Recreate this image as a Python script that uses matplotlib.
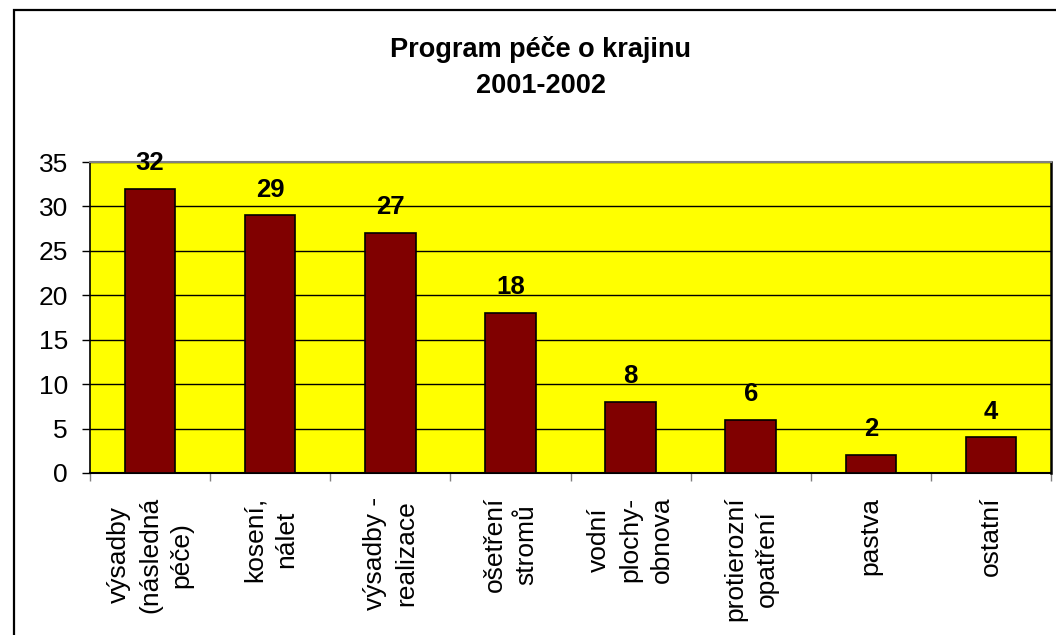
import numpy as np
import matplotlib.pyplot as plt
from matplotlib.patches import Rectangle

plt.rcParams['font.family'] = ['Liberation Sans', 'DejaVu Sans']

# programme categories and counts
categories = ['výsadby\n(následná\npéče)', 'kosení,\nnálet', 'výsadby -\nrealizace',
              'ošetření\nstromů', 'vodní\nplochy-\nobnova', 'protierozní\nopatření',
              'pastva', 'ostatní']
counts = [32, 29, 27, 18, 8, 6, 2, 4]
yticks = [0, 5, 10, 15, 20, 25, 30, 35]

W, H = 1056, 635
fig = plt.figure(figsize=(W / 100, H / 100), dpi=100)

# outer chart frame, runs off the right and bottom edges
fig.patches.append(Rectangle((14 / W, -0.1), 1.2, (H - 10) / H + 0.1,
                             transform=fig.transFigure, fill=False,
                             edgecolor='black', linewidth=1.6))

ax = fig.add_axes([90 / W, (H - 473) / H, (1051 - 90) / W, (473 - 162) / H])
ax.set_facecolor('#FFFF00')

x = np.arange(len(counts))
ax.bar(x, counts, width=0.42, color='#800000', edgecolor='black', linewidth=1.2, zorder=3)

for xi, v in zip(x, counts):
    ax.annotate(str(v), (xi, v), xytext=(0, 13.5), textcoords='offset points',
                ha='center', va='baseline', fontsize=18.5, fontweight='bold')

ax.set_xlim(-0.5, len(counts) - 0.5)
ax.set_ylim(0, 35)
ax.set_yticks(yticks)
ax.tick_params(axis='y', labelsize=19, length=6, width=1, pad=10)
ax.yaxis.grid(True, color='black', linewidth=1)
ax.set_axisbelow(True)

# boundary ticks between categories, labels in the middle
ax.set_xticks(np.arange(len(counts) + 1) - 0.5)
ax.set_xticklabels([])
ax.tick_params(axis='x', which='major', length=6, width=1, color='#808080')
ax.set_xticks(x, minor=True)
ax.set_xticklabels(categories, minor=True, rotation=90, fontsize=19,
                   multialignment='center', linespacing=1.4)
ax.tick_params(axis='x', which='minor', length=0, pad=17)

ax.spines['left'].set_linewidth(1.2)
ax.spines['bottom'].set_linewidth(1.5)
ax.spines['top'].set_color('#808080')
ax.spines['top'].set_linewidth(1.5)
ax.spines['right'].set_linewidth(1.8)

fig.text(541 / W, 1 - 57 / H, 'Program péče o krajinu', ha='center', va='baseline',
         fontsize=19.5, fontweight='bold')
fig.text(541 / W, 1 - 93 / H, '2001-2002', ha='center', va='baseline',
         fontsize=19.5, fontweight='bold')

fig.savefig('out.png', dpi=100)
